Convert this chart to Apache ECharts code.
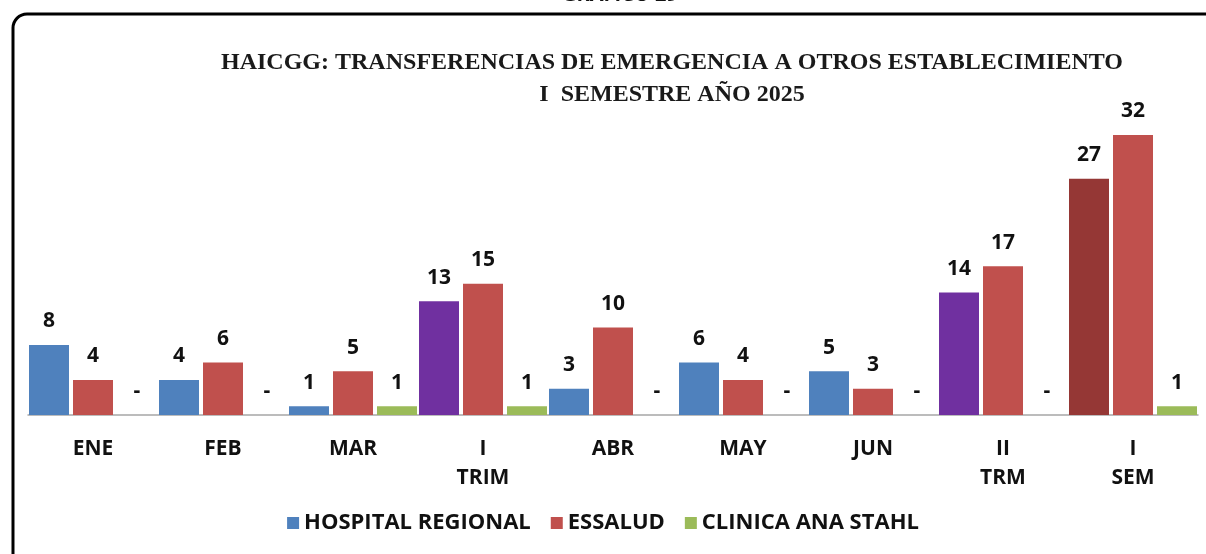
<!DOCTYPE html>
<html>
<head>
<meta charset="utf-8">
<script src="https://cdn.jsdelivr.net/npm/echarts@6/dist/echarts.min.js"></script>
<style>
  html, body { margin: 0; padding: 0; background: #fff; }
  #chart { width: 1206px; height: 554px; }
</style>
</head>
<body>
<div id="chart"></div>
<script>
// datos
const categorias = ['ENE', 'FEB', 'MAR', 'I\nTRIM', 'ABR', 'MAY', 'JUN', 'II\nTRM', 'I\nSEM'];
const hospitalRegional = [8, 4, 1, 13, 3, 6, 5, 14, 27];
const essalud = [4, 6, 5, 15, 10, 4, 3, 17, 32];
const clinicaAnaStahl = [0, 0, 1, 1, 0, 0, 0, 0, 1];

// colores especiales de las barras de totales
const coloresTotales = { 'I\nTRIM': '#7030A0', 'II\nTRM': '#7030A0', 'I\nSEM': '#953735' };

const fuente = 'Open Sans';
const etiqueta = {
  show: true,
  position: 'top',
  distance: 13,
  color: '#111',
  fontFamily: fuente,
  fontWeight: 'bold',
  fontSize: 21,
  formatter: p => (p.value === 0 ? '-' : p.value)
};

const chart = echarts.init(document.getElementById('chart'));

chart.setOption({
  animation: false,
  backgroundColor: '#fff',
  title: {
    text: 'HAICGG: TRANSFERENCIAS DE EMERGENCIA A OTROS ESTABLECIMIENTO\nI  SEMESTRE AÑO 2025',
    left: 667,
    top: 42,
    textAlign: 'center',
    textStyle: {
      fontFamily: 'Liberation Serif',
      fontWeight: 'bold',
      fontSize: 24,
      lineHeight: 32,
      color: '#1a1a1a'
    }
  },
  legend: {
    top: 507,
    left: 'center',
    icon: 'rect',
    itemWidth: 12,
    itemHeight: 12,
    itemGap: 20,
    textStyle: { fontFamily: fuente, fontWeight: 'bold', fontSize: 22, color: '#111' },
    data: ['HOSPITAL REGIONAL', 'ESSALUD', 'CLINICA ANA STAHL']
  },
  grid: { left: 28, right: 8, top: 100, bottom: 139 },
  xAxis: {
    type: 'category',
    data: categorias,
    axisLine: { lineStyle: { color: '#a6a6a6', width: 1.5 } },
    axisTick: { show: false },
    axisLabel: {
      margin: 20,
      color: '#111',
      fontFamily: fuente,
      fontWeight: 'bold',
      fontSize: 21,
      lineHeight: 29,
      verticalAlign: 'top'
    }
  },
  yAxis: {
    type: 'value',
    min: 0,
    max: 36,
    show: false,
    splitLine: { show: false }
  },
  graphic: [
    {
      type: 'rect',
      shape: { x: 13, y: 14, width: 1220, height: 570, r: 14 },
      style: { fill: 'none', stroke: '#000', lineWidth: 3 },
      silent: true
    },
    {
      type: 'text',
      x: 620,
      y: -15,
      style: { text: 'GRAFICO 29', fontFamily: fuente, fontWeight: 'bold', fontSize: 20, fill: '#111', align: 'center' },
      silent: true
    }
  ],
  series: [
    {
      name: 'HOSPITAL REGIONAL',
      type: 'bar',
      barWidth: 40,
      barGap: '10%',
      itemStyle: { color: '#4F81BD' },
      label: etiqueta,
      data: hospitalRegional.map((v, i) => {
        const c = coloresTotales[categorias[i]];
        return c ? { value: v, itemStyle: { color: c } } : v;
      })
    },
    {
      name: 'ESSALUD',
      type: 'bar',
      barWidth: 40,
      barGap: '10%',
      itemStyle: { color: '#C0504D' },
      label: etiqueta,
      data: essalud
    },
    {
      name: 'CLINICA ANA STAHL',
      type: 'bar',
      barWidth: 40,
      barGap: '10%',
      itemStyle: { color: '#9BBB59' },
      label: etiqueta,
      data: clinicaAnaStahl
    }
  ]
});
</script>
</body>
</html>
